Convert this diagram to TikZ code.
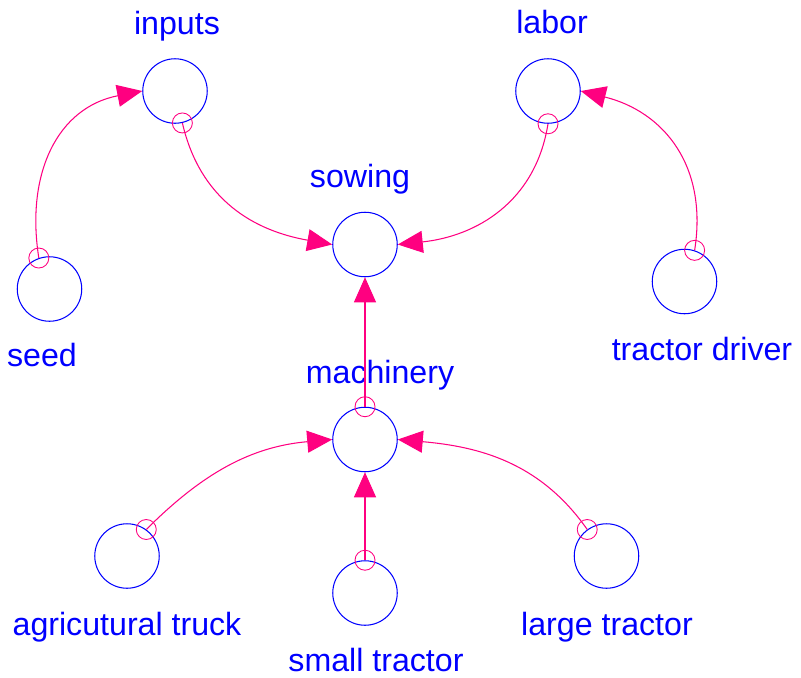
\documentclass[tikz,border=0pt]{standalone}
\usepackage{fontspec}
\setmainfont{Liberation Sans}
\usepackage{xcolor}
\definecolor{vsblue}{RGB}{0,0,255}
\definecolor{vspink}{RGB}{255,0,128}
\usetikzlibrary{arrows.meta}

\begin{document}
\begin{tikzpicture}[x=0.02cm, y=0.02cm,
  var/.style={draw=vsblue, circle, line width=0.6pt, minimum size=1.29cm, inner sep=0pt},
  tag/.style={draw=vspink, circle, line width=0.5pt, minimum size=0.4cm, inner sep=0pt},
  link/.style={draw=vspink, line width=0.6pt, -{Triangle[length=0.5cm, width=0.44cm]}},
  lbl/.style={text=vsblue, font=\fontsize{18.3}{20}\selectfont, anchor=base, inner sep=0pt}]

\useasboundingbox (0,0) rectangle (801,-677);

% --- Variables ---
\node[var] (inputs) at (175,-91) {};
\node[var] (labor) at (548,-91) {};
\node[var] (sowing) at (365,-244.5) {};
\node[var] (seed) at (49.5,-289) {};
\node[var] (driver) at (684.5,-281.5) {};
\node[var] (machinery) at (365,-439.5) {};
\node[var] (truck) at (127,-556) {};
\node[var] (small) at (365,-593) {};
\node[var] (large) at (606.5,-556) {};

% --- Labels ---
\node[lbl] (l-inputs) at (177,-34) {inputs};
\node[lbl] (l-labor) at (552,-33) {labor};
\node[lbl] (l-sowing) at (360,-187) {sowing};
\node[lbl] (l-seed) at (42,-366) {seed};
\node[lbl] (l-driver) at (702,-360) {tractor driver};
\node[lbl] (l-machinery) at (380,-383) {machinery};
\node[lbl] (l-truck) at (127,-635) {agricutural truck};
\node[lbl] (l-small) at (376,-671) {small tractor};
\node[lbl] (l-large) at (607,-635) {large tractor};

% --- Link tails ---
\node[tag] (t-seed) at (seed.109) {};
\node[tag] (t-inputs) at (inputs.-77) {};
\node[tag] (t-labor) at (labor.-90) {};
\node[tag] (t-driver) at (driver.72) {};
\node[tag] (t-machinery) at (machinery.90) {};
\node[tag] (t-truck) at (truck.54) {};
\node[tag] (t-small) at (small.90) {};
\node[tag] (t-large) at (large.126) {};

% --- Links ---
\draw[link] (t-seed.center) to[out=99, in=191, looseness=1.12] (inputs.west);
\draw[link] (t-inputs.center) to[out=-77, in=170, looseness=1.05] (sowing.west);
\draw[link] (t-labor.center) to[out=-99, in=6, looseness=1.05] (sowing.east);
\draw[link] (t-driver.center) to[out=81, in=-14, looseness=1.12] (labor.east);
\draw[link] (t-machinery.center) -- (sowing.south);
\draw[link] (t-truck.center) to[out=45, in=185] (machinery.west);
\draw[link] (t-small.center) -- (machinery.south);
\draw[link] (t-large.center) to[out=125, in=-5] (machinery.east);

\end{tikzpicture}
\end{document}
